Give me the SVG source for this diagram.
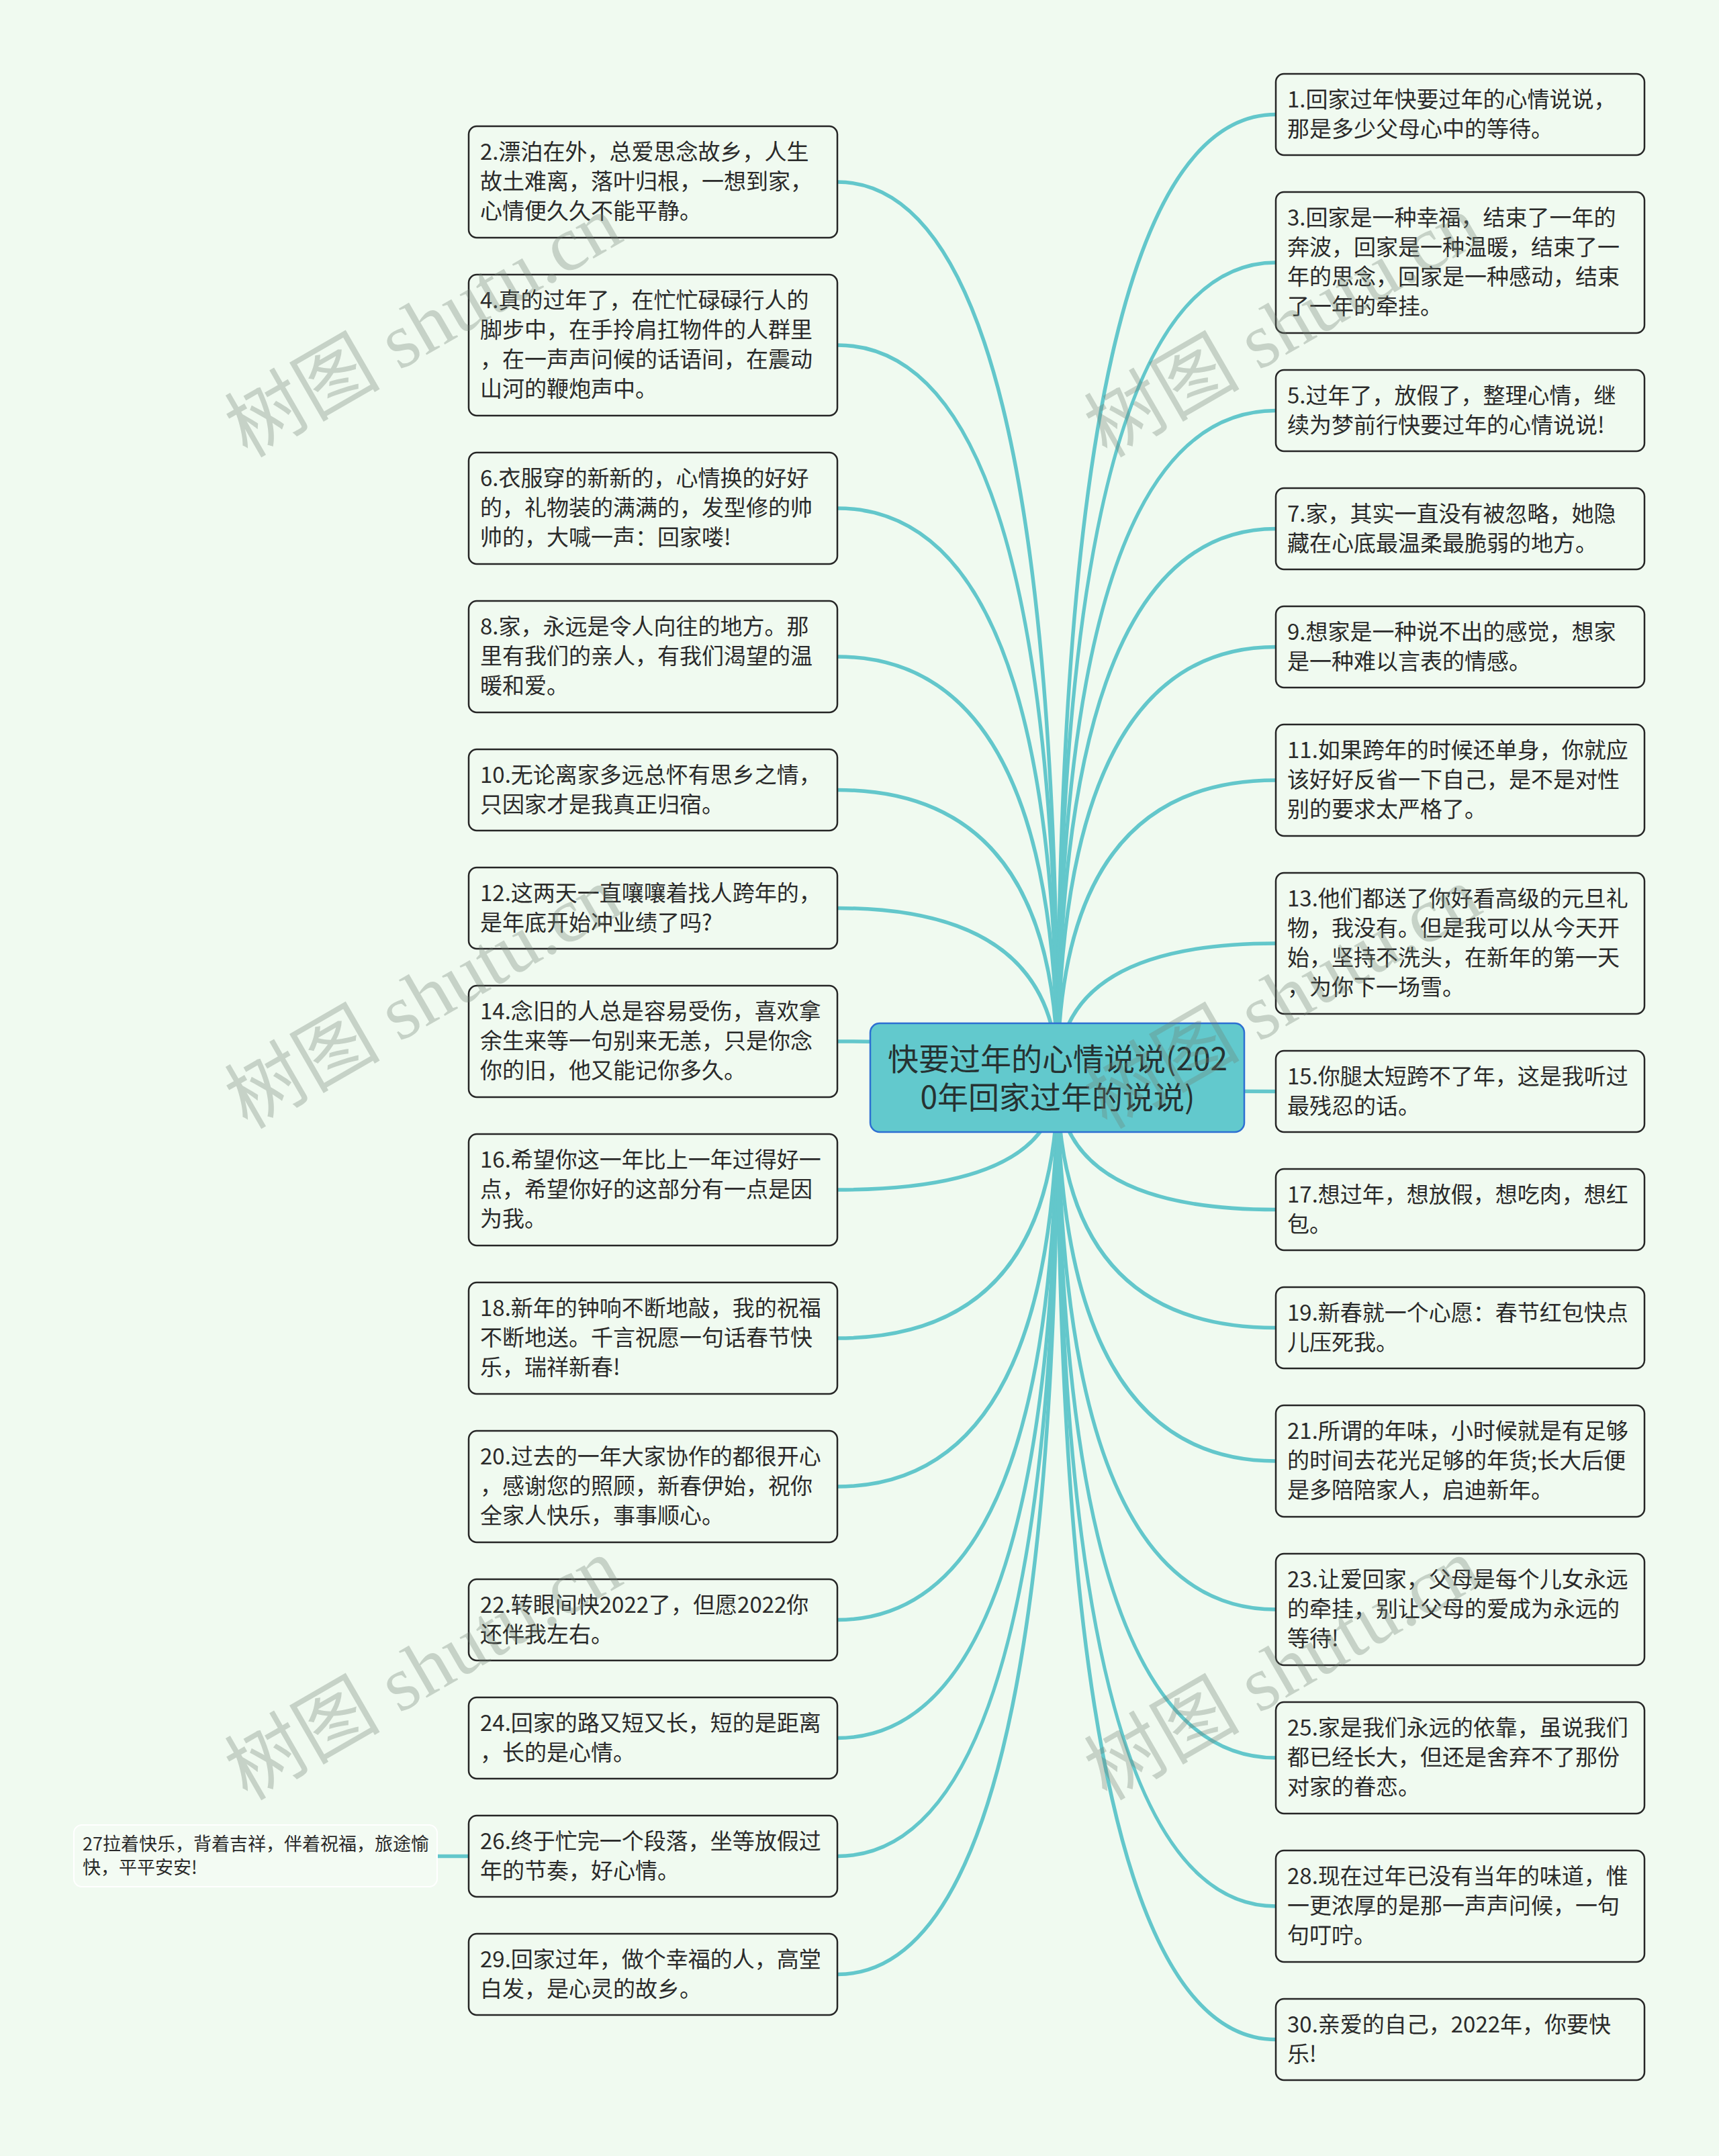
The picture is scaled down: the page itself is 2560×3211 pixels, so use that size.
<svg xmlns="http://www.w3.org/2000/svg" width="2560" height="3211" viewBox="0 0 2560 3211">
<style>
.bg{fill:#f0faf0}
.node rect{fill:#f0faf0;stroke:#262626;stroke-width:2.5}
.node text{font-family:"Noto Sans CJK SC","Noto Sans",sans-serif;font-size:33px;fill:#2a2a2a}
.sub rect{fill:#f3fbf3;stroke:#ffffff;stroke-width:2}
.sub text{font-family:"Noto Sans CJK SC","Noto Sans",sans-serif;font-size:27px;fill:#2a2a2a}
.root rect{fill:#62c9cd;stroke:#2d6fd2;stroke-width:2.5}
.root text{font-family:"Noto Sans CJK SC","Noto Sans",sans-serif;font-size:46px;fill:#263232}
.link{fill:none;stroke:#63c7cb;stroke-width:5.5}
.wm{font-family:"Liberation Serif","Noto Sans CJK SC",serif;font-size:116px;fill:#6f7f72;opacity:0.32}
</style>
<rect class="bg" x="0" y="0" width="2560" height="3211"/>
<g id="connectors">
<path class="link" d="M1247 271 Q1575 271 1575 1605"/>
<path class="link" d="M1247 514 Q1575 514 1575 1605"/>
<path class="link" d="M1247 757 Q1575 757 1575 1605"/>
<path class="link" d="M1247 978 Q1575 978 1575 1605"/>
<path class="link" d="M1247 1176.5 Q1575 1176.5 1575 1605"/>
<path class="link" d="M1247 1352.5 Q1575 1352.5 1575 1605"/>
<path class="link" d="M1247 1551 Q1575 1551 1575 1605"/>
<path class="link" d="M1247 1772 Q1575 1772 1575 1605"/>
<path class="link" d="M1247 1993 Q1575 1993 1575 1605"/>
<path class="link" d="M1247 2214 Q1575 2214 1575 1605"/>
<path class="link" d="M1247 2412.5 Q1575 2412.5 1575 1605"/>
<path class="link" d="M1247 2588.5 Q1575 2588.5 1575 1605"/>
<path class="link" d="M1247 2764.5 Q1575 2764.5 1575 1605"/>
<path class="link" d="M1247 2940.5 Q1575 2940.5 1575 1605"/>
<path class="link" d="M1900 170.5 Q1575 170.5 1575 1605"/>
<path class="link" d="M1900 391 Q1575 391 1575 1605"/>
<path class="link" d="M1900 611.5 Q1575 611.5 1575 1605"/>
<path class="link" d="M1900 787.5 Q1575 787.5 1575 1605"/>
<path class="link" d="M1900 963.5 Q1575 963.5 1575 1605"/>
<path class="link" d="M1900 1162 Q1575 1162 1575 1605"/>
<path class="link" d="M1900 1405 Q1575 1405 1575 1605"/>
<path class="link" d="M1900 1625.5 Q1575 1625.5 1575 1605"/>
<path class="link" d="M1900 1801.5 Q1575 1801.5 1575 1605"/>
<path class="link" d="M1900 1977.5 Q1575 1977.5 1575 1605"/>
<path class="link" d="M1900 2176 Q1575 2176 1575 1605"/>
<path class="link" d="M1900 2397 Q1575 2397 1575 1605"/>
<path class="link" d="M1900 2618 Q1575 2618 1575 1605"/>
<path class="link" d="M1900 2839 Q1575 2839 1575 1605"/>
<path class="link" d="M1900 3037.5 Q1575 3037.5 1575 1605"/>
<path class="link" d="M651 2764.5 L698 2764.5"/>
</g>
<g id="root" class="root">
<rect x="1296" y="1524" width="557" height="162" rx="14"/>
<text x="1575" y="1594" text-anchor="middle">快要过年的心情说说(202</text>
<text x="1575" y="1651" text-anchor="middle">0年回家过年的说说)</text>
</g>
<g id="n2" class="node"><rect x="698" y="188" width="549" height="166" rx="12"/><text x="715" y="238">2.漂泊在外，总爱思念故乡，人生</text><text x="715" y="282">故土难离，落叶归根，一想到家，</text><text x="715" y="326">心情便久久不能平静。</text></g>
<g id="n4" class="node"><rect x="698" y="409" width="549" height="210" rx="12"/><text x="715" y="459">4.真的过年了，在忙忙碌碌行人的</text><text x="715" y="503">脚步中，在手拎肩扛物件的人群里</text><text x="715" y="547">，在一声声问候的话语间，在震动</text><text x="715" y="591">山河的鞭炮声中。</text></g>
<g id="n6" class="node"><rect x="698" y="674" width="549" height="166" rx="12"/><text x="715" y="724">6.衣服穿的新新的，心情换的好好</text><text x="715" y="768">的，礼物装的满满的，发型修的帅</text><text x="715" y="812">帅的，大喊一声：回家喽!</text></g>
<g id="n8" class="node"><rect x="698" y="895" width="549" height="166" rx="12"/><text x="715" y="945">8.家，永远是令人向往的地方。那</text><text x="715" y="989">里有我们的亲人，有我们渴望的温</text><text x="715" y="1033">暖和爱。</text></g>
<g id="n10" class="node"><rect x="698" y="1116" width="549" height="121" rx="12"/><text x="715" y="1166">10.无论离家多远总怀有思乡之情，</text><text x="715" y="1210">只因家才是我真正归宿。</text></g>
<g id="n12" class="node"><rect x="698" y="1292" width="549" height="121" rx="12"/><text x="715" y="1342">12.这两天一直嚷嚷着找人跨年的，</text><text x="715" y="1386">是年底开始冲业绩了吗?</text></g>
<g id="n14" class="node"><rect x="698" y="1468" width="549" height="166" rx="12"/><text x="715" y="1518">14.念旧的人总是容易受伤，喜欢拿</text><text x="715" y="1562">余生来等一句别来无恙，只是你念</text><text x="715" y="1606">你的旧，他又能记你多久。</text></g>
<g id="n16" class="node"><rect x="698" y="1689" width="549" height="166" rx="12"/><text x="715" y="1739">16.希望你这一年比上一年过得好一</text><text x="715" y="1783">点，希望你好的这部分有一点是因</text><text x="715" y="1827">为我。</text></g>
<g id="n18" class="node"><rect x="698" y="1910" width="549" height="166" rx="12"/><text x="715" y="1960">18.新年的钟响不断地敲，我的祝福</text><text x="715" y="2004">不断地送。千言祝愿一句话春节快</text><text x="715" y="2048">乐，瑞祥新春!</text></g>
<g id="n20" class="node"><rect x="698" y="2131" width="549" height="166" rx="12"/><text x="715" y="2181">20.过去的一年大家协作的都很开心</text><text x="715" y="2225">，感谢您的照顾，新春伊始，祝你</text><text x="715" y="2269">全家人快乐，事事顺心。</text></g>
<g id="n22" class="node"><rect x="698" y="2352" width="549" height="121" rx="12"/><text x="715" y="2402">22.转眼间快2022了，但愿2022你</text><text x="715" y="2446">还伴我左右。</text></g>
<g id="n24" class="node"><rect x="698" y="2528" width="549" height="121" rx="12"/><text x="715" y="2578">24.回家的路又短又长，短的是距离</text><text x="715" y="2622">，长的是心情。</text></g>
<g id="n26" class="node"><rect x="698" y="2704" width="549" height="121" rx="12"/><text x="715" y="2754">26.终于忙完一个段落，坐等放假过</text><text x="715" y="2798">年的节奏，好心情。</text></g>
<g id="n27" class="sub"><rect x="110" y="2718" width="541" height="92" rx="12"/><text x="123" y="2756">27拉着快乐，背着吉祥，伴着祝福，旅途愉</text><text x="123" y="2791">快，平平安安!</text></g>
<g id="n29" class="node"><rect x="698" y="2880" width="549" height="121" rx="12"/><text x="715" y="2930">29.回家过年，做个幸福的人，高堂</text><text x="715" y="2974">白发，是心灵的故乡。</text></g>
<g id="n1" class="node"><rect x="1900" y="110" width="549" height="121" rx="12"/><text x="1917" y="160">1.回家过年快要过年的心情说说，</text><text x="1917" y="204">那是多少父母心中的等待。</text></g>
<g id="n3" class="node"><rect x="1900" y="286" width="549" height="210" rx="12"/><text x="1917" y="336">3.回家是一种幸福，结束了一年的</text><text x="1917" y="380">奔波，回家是一种温暖，结束了一</text><text x="1917" y="424">年的思念，回家是一种感动，结束</text><text x="1917" y="468">了一年的牵挂。</text></g>
<g id="n5" class="node"><rect x="1900" y="551" width="549" height="121" rx="12"/><text x="1917" y="601">5.过年了，放假了，整理心情，继</text><text x="1917" y="645">续为梦前行快要过年的心情说说!</text></g>
<g id="n7" class="node"><rect x="1900" y="727" width="549" height="121" rx="12"/><text x="1917" y="777">7.家，其实一直没有被忽略，她隐</text><text x="1917" y="821">藏在心底最温柔最脆弱的地方。</text></g>
<g id="n9" class="node"><rect x="1900" y="903" width="549" height="121" rx="12"/><text x="1917" y="953">9.想家是一种说不出的感觉，想家</text><text x="1917" y="997">是一种难以言表的情感。</text></g>
<g id="n11" class="node"><rect x="1900" y="1079" width="549" height="166" rx="12"/><text x="1917" y="1129">11.如果跨年的时候还单身，你就应</text><text x="1917" y="1173">该好好反省一下自己，是不是对性</text><text x="1917" y="1217">别的要求太严格了。</text></g>
<g id="n13" class="node"><rect x="1900" y="1300" width="549" height="210" rx="12"/><text x="1917" y="1350">13.他们都送了你好看高级的元旦礼</text><text x="1917" y="1394">物，我没有。但是我可以从今天开</text><text x="1917" y="1438">始，坚持不洗头，在新年的第一天</text><text x="1917" y="1482">，为你下一场雪。</text></g>
<g id="n15" class="node"><rect x="1900" y="1565" width="549" height="121" rx="12"/><text x="1917" y="1615">15.你腿太短跨不了年，这是我听过</text><text x="1917" y="1659">最残忍的话。</text></g>
<g id="n17" class="node"><rect x="1900" y="1741" width="549" height="121" rx="12"/><text x="1917" y="1791">17.想过年，想放假，想吃肉，想红</text><text x="1917" y="1835">包。</text></g>
<g id="n19" class="node"><rect x="1900" y="1917" width="549" height="121" rx="12"/><text x="1917" y="1967">19.新春就一个心愿：春节红包快点</text><text x="1917" y="2011">儿压死我。</text></g>
<g id="n21" class="node"><rect x="1900" y="2093" width="549" height="166" rx="12"/><text x="1917" y="2143">21.所谓的年味，小时候就是有足够</text><text x="1917" y="2187">的时间去花光足够的年货;长大后便</text><text x="1917" y="2231">是多陪陪家人，启迪新年。</text></g>
<g id="n23" class="node"><rect x="1900" y="2314" width="549" height="166" rx="12"/><text x="1917" y="2364">23.让爱回家，父母是每个儿女永远</text><text x="1917" y="2408">的牵挂，别让父母的爱成为永远的</text><text x="1917" y="2452">等待!</text></g>
<g id="n25" class="node"><rect x="1900" y="2535" width="549" height="166" rx="12"/><text x="1917" y="2585">25.家是我们永远的依靠，虽说我们</text><text x="1917" y="2629">都已经长大，但还是舍弃不了那份</text><text x="1917" y="2673">对家的眷恋。</text></g>
<g id="n28" class="node"><rect x="1900" y="2756" width="549" height="166" rx="12"/><text x="1917" y="2806">28.现在过年已没有当年的味道，惟</text><text x="1917" y="2850">一更浓厚的是那一声声问候，一句</text><text x="1917" y="2894">句叮咛。</text></g>
<g id="n30" class="node"><rect x="1900" y="2977" width="549" height="121" rx="12"/><text x="1917" y="3027">30.亲爱的自己，2022年，你要快</text><text x="1917" y="3071">乐!</text></g>
<g id="watermarks">
<text class="wm" text-anchor="middle" transform="translate(650 520) rotate(-30)">树图 shutu.cn</text>
<text class="wm" text-anchor="middle" transform="translate(650 1520) rotate(-30)">树图 shutu.cn</text>
<text class="wm" text-anchor="middle" transform="translate(650 2520) rotate(-30)">树图 shutu.cn</text>
<text class="wm" text-anchor="middle" transform="translate(1930 520) rotate(-30)">树图 shutu.cn</text>
<text class="wm" text-anchor="middle" transform="translate(1930 1520) rotate(-30)">树图 shutu.cn</text>
<text class="wm" text-anchor="middle" transform="translate(1930 2520) rotate(-30)">树图 shutu.cn</text>
</g>
</svg>
